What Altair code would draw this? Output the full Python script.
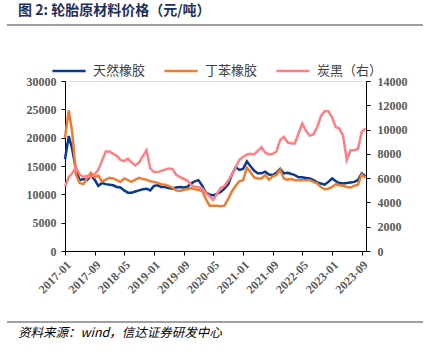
import altair as alt
import pandas as pd

months = pd.date_range("2017-01-01", periods=82, freq="MS").strftime("%Y-%m-%dT00:00:00").tolist()

natural_rubber = [
    16200, 20300, 18000, 14300, 12500, 12700, 12500, 13300, 12600, 11500,
    12000, 11800, 11700, 11600, 11300, 11200, 10700, 10300, 10300, 10500,
    10700, 10900, 11000, 10700, 11500, 11600, 11300, 11300, 11100, 11000,
    11200, 11300, 11200, 11300, 11900, 12300, 12500, 11500, 10300, 10000,
    9800, 10100, 10400, 11000, 11800, 13500, 14800, 14300, 14500, 15800,
    15000, 14200, 13700, 13700, 14000, 13500, 13400, 13800, 14500, 13700,
    13800, 13600, 13400, 13000, 13000, 12900, 12800, 12500, 12100, 11900,
    11700, 12200, 12800, 12300, 12000, 11900, 12000, 12100, 12200, 12500,
    13700, 13200]

sbr = [
    20000, 24800, 21000, 13500, 12000, 11800, 12800, 13800, 13000, 13300,
    12300, 12600, 12900, 12800, 12500, 12200, 12800, 12500, 12200, 12600,
    12900, 12700, 12600, 12300, 12200, 12000, 11800, 11700, 11500, 11200,
    10700, 10600, 10800, 10900, 11100, 10900, 10800, 10600, 9200, 8000,
    8000, 8000, 7900, 8000, 9200, 10500, 11500, 12300, 12500, 14700,
    14000, 13000, 12800, 12800, 13400, 12600, 13200, 13400, 14300, 12800,
    12600, 12700, 12500, 12500, 12500, 12500, 12500, 12200, 11900, 11300,
    10900, 11000, 11300, 11800, 11600, 11500, 11300, 11200, 11500, 11700,
    13500, 12900]

carbon_black = [
    5300, 6100, 6400, 6900, 6300, 6100, 6200, 6100, 6300, 6700,
    7450, 8200, 8200, 8000, 7850, 7500, 7400, 7600, 7300, 7050,
    7300, 7800, 8300, 6800, 6500, 6500, 6600, 6700, 6800, 6750,
    6300, 6100, 5950, 5800, 5450, 5300, 5270, 5150, 4800, 4500,
    4200, 4700, 5200, 5350, 5800, 6300, 6900, 7500, 7750, 7950,
    8000, 7950, 8250, 8550, 8100, 7950, 8000, 8200, 9150, 9400,
    8950, 8850, 8850, 9700, 10500, 9900, 9500, 9600, 10200, 11100,
    11500, 11500, 11000, 10200, 10100, 9500, 7500, 8300, 8300, 8400,
    9800, 10100]

series_names = ["天然橡胶", "丁苯橡胶", "炭黑（右）"]
series_colors = ["#0B3A8C", "#ED7D31", "#FF7F84"]
left_ticks = [0, 5000, 10000, 15000, 20000, 25000, 30000]
right_ticks = [0, 2000, 4000, 6000, 8000, 10000, 12000, 14000]
x_tick_months = [(2017, 1), (2017, 9), (2018, 5), (2019, 1), (2019, 9), (2020, 5),
                 (2021, 1), (2021, 9), (2022, 5), (2023, 1), (2023, 9)]

rows = []
for i, d in enumerate(months):
    rows.append({"date": d, "series": series_names[0], "order": 0, "value": natural_rubber[i]})
    rows.append({"date": d, "series": series_names[1], "order": 1, "value": sbr[i]})
    rows.append({"date": d, "series": series_names[2], "order": 2, "value": carbon_black[i]})
df = pd.DataFrame(rows)

label_font = "Liberation Serif"
lab_color = "#595959"

x_enc = alt.X(
    "date:T",
    scale=alt.Scale(domain=[alt.DateTime(year=2017, month=1, date=1),
                            alt.DateTime(year=2023, month=10, date=6)]),
    axis=alt.Axis(
        values=[alt.DateTime(year=y, month=m, date=1) for y, m in x_tick_months],
        format="%Y-%m", labelAngle=315, labelAlign="right", labelBaseline="top",
        labelFont=label_font, labelFontWeight="bold", labelFontSize=12, labelColor=lab_color,
        labelPadding=4, tickSize=4, tickColor="black", domainColor="black",
        grid=False, title=None, labelOverlap=False),
)

color_enc = alt.Color(
    "series:N",
    scale=alt.Scale(domain=series_names, range=series_colors),
    legend=alt.Legend(
        title=None, orient="none", direction="horizontal", legendX=-14, legendY=-28,
        symbolType="stroke", symbolSize=1100, symbolStrokeWidth=2.6,
        labelFont="Noto Sans CJK SC", labelFontSize=13, labelColor="#404040",
        labelOffset=6, columnPadding=13),
)

left = alt.Chart(df).transform_filter(
    alt.FieldOneOfPredicate(field="series", oneOf=series_names[:2])
).mark_line(strokeWidth=2.5).encode(
    x=x_enc,
    y=alt.Y("value:Q", scale=alt.Scale(domain=[0, 30000]),
            axis=alt.Axis(values=left_ticks, format="d", orient="left", grid=False, title=None,
                          labelFont=label_font, labelFontWeight="bold", labelFontSize=12,
                          labelColor=lab_color, tickSize=4, tickColor="black",
                          domainColor="black", labelPadding=5)),
    color=color_enc,
    order=alt.Order("order:Q"),
    detail="series:N",
)

right = alt.Chart(df).transform_filter(
    alt.FieldEqualPredicate(field="series", equal=series_names[2])
).mark_line(strokeWidth=2.5).encode(
    x=x_enc,
    y=alt.Y("value:Q", scale=alt.Scale(domain=[0, 14000]),
            axis=alt.Axis(values=right_ticks, format="d", orient="right", grid=False, title=None,
                          labelFont=label_font, labelFontWeight="bold", labelFontSize=12,
                          labelColor=lab_color, tickSize=4, tickColor="black",
                          domainColor="black", labelPadding=7)),
    color=color_enc,
)

one = alt.Data(values=[{}])
title = alt.Chart(one).mark_text(
    text="图 2:  轮胎原材料价格（元/吨）", font="Noto Sans CJK SC", fontSize=14,
    fontWeight="bold", color="#1F2F5C", align="left", baseline="middle"
).encode(x=alt.value(-47), y=alt.value(-70))
title_rule = alt.Chart(one).mark_rule(color="#7F7F7F", strokeWidth=1.6).encode(
    x=alt.value(-58), x2=alt.value(358), y=alt.value(-56))
foot_rule = alt.Chart(one).mark_rule(color="#7F7F7F", strokeWidth=1.6).encode(
    x=alt.value(-58), x2=alt.value(358), y=alt.value(241))
footer = alt.Chart(one).mark_text(
    text="资料来源：wind，信达证券研发中心", font="Noto Sans CJK SC", fontSize=12.5,
    fontStyle="italic", color="#000000", align="left", baseline="middle"
).encode(x=alt.value(-47), y=alt.value(252))

chart = alt.layer(left, right, title, title_rule, foot_rule, footer).resolve_scale(
    y="independent"
).properties(
    width=301, height=170,
    autosize=alt.AutoSizeParams(type="none"),
    padding={"left": 65, "top": 81, "right": 66, "bottom": 101},
).configure_view(stroke=None).configure(background="white")

chart.save("out.html", embed_options={"renderer": "svg", "actions": False})
